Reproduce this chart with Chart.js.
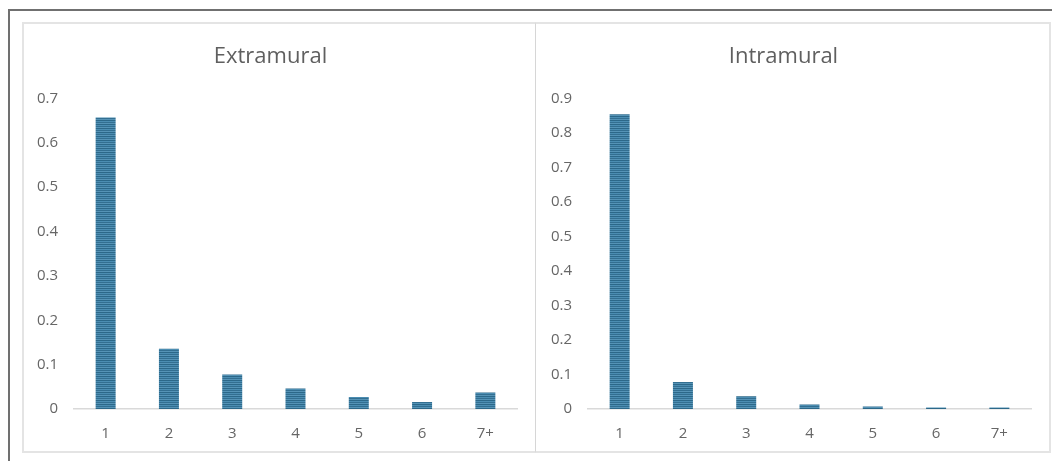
<!DOCTYPE html>
<html>
<head>
<meta charset="utf-8">
<script src="https://cdn.jsdelivr.net/npm/chart.js@4.4.1/dist/chart.umd.min.js"></script>
<style>
  html, body { margin: 0; padding: 0; background: #ffffff; }
  body { width: 1052px; height: 461px; position: relative; overflow: hidden; }
  .frame { position: absolute; left: 8px; top: 9px; width: 1200px; height: 600px;
           border-top: 2px solid #707070; border-left: 2px solid #707070; box-sizing: border-box; }
  .panel { position: absolute; top: 22px; height: 431px; box-sizing: border-box;
           border: 2px solid #e4e4e4; background: #ffffff; }
  #panelL { left: 22px; width: 514px; border-right: 1px solid #d6d6d6; }
  #panelR { left: 535px; width: 516px; border-left: 1px solid #d6d6d6; }
  canvas { position: absolute; }
</style>
</head>
<body>
<div class="frame"></div>
<div class="panel" id="panelL"></div>
<div class="panel" id="panelR"></div>
<canvas id="chartL" width="511" height="447" style="left:24px; top:24px;"></canvas>
<canvas id="chartR" width="513" height="447" style="left:536px; top:24px;"></canvas>
<script>
// Share of cases by number of occurrences
const categories = ['1', '2', '3', '4', '5', '6', '7+'];
const extramuralValues = [0.657, 0.136, 0.078, 0.046, 0.027, 0.016, 0.037];
const intramuralValues = [0.854, 0.078, 0.037, 0.013, 0.007, 0.004, 0.004];
const extramuralTitle = 'Extramural';
const intramuralTitle = 'Intramural';
const extramuralMax = 0.7;
const intramuralMax = 0.9;

// Horizontal striped fill for the bars
function stripePattern() {
  const c = document.createElement('canvas');
  c.width = 4; c.height = 4;
  const g = c.getContext('2d');
  const rows = ['#2c6889', '#4b8db2', '#336f91', '#5593b6'];
  rows.forEach((col, i) => { g.fillStyle = col; g.fillRect(0, i, 4, 1); });
  return g.createPattern(c, 'repeat');
}

function makeChart(id, title, values, maxVal, axisWidth) {
  const ctx = document.getElementById(id).getContext('2d');
  return new Chart(ctx, {
    type: 'bar',
    data: {
      labels: categories,
      datasets: [{
        data: values,
        backgroundColor: stripePattern(),
        borderWidth: 0,
        barPercentage: 0.316,
        categoryPercentage: 1.0
      }]
    },
    options: {
      responsive: false,
      animation: false,
      devicePixelRatio: 1,
      layout: { padding: { left: 0, right: 18, top: 0, bottom: 12 } },
      plugins: {
        legend: { display: false },
        tooltip: { enabled: false },
        title: {
          display: true,
          text: title,
          color: '#5f5f5f',
          font: { family: 'Open Sans', size: 22, weight: 'normal' },
          padding: { top: 20, bottom: 28 }
        }
      },
      scales: {
        x: {
          grid: { display: false, drawTicks: false },
          border: { display: true, color: '#d9d9d9', width: 1.5 },
          ticks: { color: '#666666', font: { family: 'Open Sans', size: 15 }, padding: 16 }
        },
        y: {
          min: 0,
          max: maxVal,
          grid: { display: false, drawTicks: false },
          border: { display: false },
          ticks: {
            stepSize: 0.1,
            color: '#666666',
            font: { family: 'Open Sans', size: 15 },
            padding: 16,
            callback: v => (Math.abs(v) < 1e-9 ? '0' : v.toFixed(1))
          },
          afterFit: s => { s.width = axisWidth; }
        }
      }
    }
  });
}

makeChart('chartL', extramuralTitle, extramuralValues, extramuralMax, 50);
makeChart('chartR', intramuralTitle, intramuralValues, intramuralMax, 52);
</script>
</body>
</html>
